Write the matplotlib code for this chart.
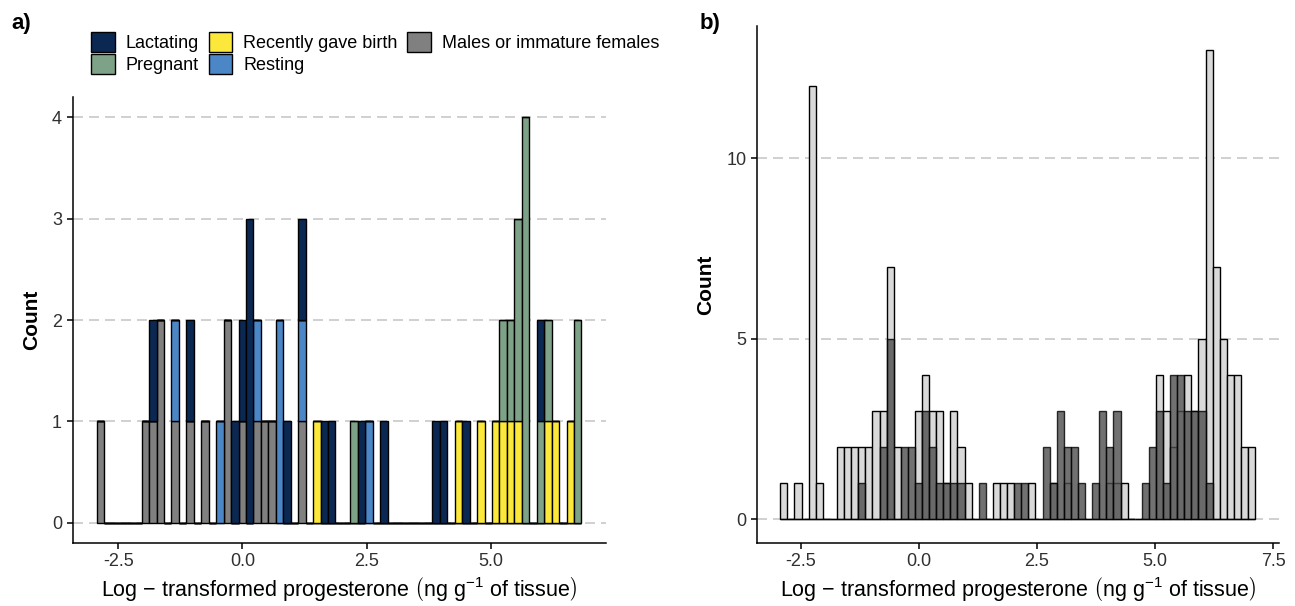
import numpy as np
import matplotlib.pyplot as plt
from matplotlib.patches import Patch

plt.rcParams['font.family'] = ['Liberation Sans', 'DejaVu Sans']
plt.rcParams['mathtext.fontset'] = 'custom'
plt.rcParams['mathtext.rm'] = 'Liberation Sans'
plt.rcParams['mathtext.it'] = 'Liberation Sans:italic'

# ---- panel a: stacked counts per 0.15 bin (65 bins from -2.93) ----
a_start = -2.93
binwidth = 0.15
males = [1, 0, 0, 0, 0, 0, 1, 1, 2, 0,
         1, 0, 1, 0, 1, 0, 0, 2, 0, 1,
         0, 1, 1, 1, 0, 0, 0, 1, 0, 0] + [0] * 35
resting = [0] * 10 + \
          [1, 0, 0, 0, 0, 0, 1, 0, 0, 0,
           0, 1, 0, 0, 2, 0, 0, 1, 0, 0,
           0, 0, 0, 0, 0, 0, 1, 0, 0, 0] + [0] * 25
recent = [0] * 20 + \
         [0, 0, 0, 0, 0, 0, 0, 0, 0, 1] + [0] * 10 + \
         [0, 0, 0, 0, 0, 0, 0, 0, 1, 0,
          0, 1, 0, 1, 1, 1, 1, 0, 0, 0,
          1, 1, 0, 1, 0]
pregnant = [0] * 30 + \
           [0, 0, 0, 0, 1, 0, 0, 0, 0, 0] + [0] * 10 + \
           [0, 0, 0, 0, 1, 1, 2, 4, 0, 1,
            1, 0, 0, 0, 2]
lactating = [0, 0, 0, 0, 0, 0, 0, 1, 0, 0,
             0, 0, 1, 0, 0, 0, 0, 0, 1, 1,
             3, 0, 0, 0, 0, 1, 0, 1, 0, 0,
             1, 1, 0, 0, 0, 1, 0, 0, 1, 0,
             0, 0, 0, 0, 0, 1, 1, 0, 0, 1,
             0, 0, 0, 0, 0, 0, 0, 0, 0, 1,
             0, 0, 0, 0, 0]

# ---- panel b: overlaid counts (67 bins from -2.93) ----
b_start = -2.93
light = [1, 0, 1, 0, 12, 1, 0, 0, 2, 2,
         2, 2, 2, 3, 3, 7, 2, 0, 0, 3,
         4, 3, 3, 1, 3, 2, 1, 0, 0, 0,
         1, 1, 1, 0, 0, 1, 0, 0, 1, 0,
         1, 0, 0, 0, 0, 0, 1, 1, 1, 0,
         0, 0, 0, 4, 3, 2, 3, 4, 3, 5,
         13, 7, 5, 4, 4, 2, 2]
dark = [0, 0, 0, 0, 0, 0, 0, 0, 0, 0,
        0, 1, 0, 0, 2, 5, 0, 2, 2, 1,
        3, 2, 1, 1, 1, 1, 0, 0, 1, 0,
        0, 0, 0, 1, 1, 0, 0, 2, 1, 3,
        2, 2, 1, 0, 1, 3, 2, 3, 0, 0,
        0, 1, 2, 3, 1, 4, 4, 3, 3, 3,
        1, 0, 0, 0, 0, 0, 0]

groups = ['Lactating', 'Pregnant', 'Recently gave birth', 'Resting',
          'Males or immature females']
colors = {'Lactating': '#0b2852', 'Pregnant': '#7da287',
          'Recently gave birth': '#fce83a', 'Resting': '#4b87c6',
          'Males or immature females': '#808080'}

fig = plt.figure(figsize=(12.95, 6.06), dpi=100)
axa = fig.add_axes([0.056, 0.104, 0.4118, 0.7357])
axb = fig.add_axes([0.5843, 0.104, 0.4032, 0.8527])

edge_kw = dict(edgecolor='black', linewidth=1.0, align='edge', zorder=3)

# stacked: bottom layer first (ggplot puts first level on top)
stack = [('Males or immature females', males), ('Resting', resting),
         ('Recently gave birth', recent), ('Pregnant', pregnant),
         ('Lactating', lactating)]
left_a = a_start + binwidth * np.arange(len(males))
bottom = np.zeros(len(males))
for name, vals in stack:
    vals = np.array(vals)
    axa.bar(left_a, vals, width=binwidth, bottom=bottom,
            color=colors[name], **edge_kw)
    bottom += vals

left_b = b_start + binwidth * np.arange(len(light))
axb.bar(left_b, light, width=binwidth, color='#d9d9d9', **edge_kw)
axb.bar(left_b, dark, width=binwidth, color='#4d4d4d', alpha=0.8,
        edgecolor='black', linewidth=1.0, align='edge', zorder=3)

xlabel = r'Log $-$ transformed progesterone $\left(\mathrm{ng\ g^{-1}\ of\ tissue}\right)$'
for ax in (axa, axb):
    ax.spines['top'].set_visible(False)
    ax.spines['right'].set_visible(False)
    for s in ('left', 'bottom'):
        ax.spines[s].set_linewidth(1.1)
    ax.tick_params(axis='both', length=4, width=1.1, labelsize=13,
                   labelcolor='#303030', direction='out')
    ax.yaxis.grid(True, color='#c8c8c8', linestyle=(0, (6, 3.6)),
                  linewidth=1.2, zorder=0)
    ax.set_axisbelow(True)
    ax.set_xlabel(xlabel, fontsize=15.5, labelpad=3)
    ax.set_xticks([-2.5, 0, 2.5, 5.0] if ax is axa else [-2.5, 0, 2.5, 5.0, 7.5])
    ax.set_xticklabels(['-2.5', '0.0', '2.5', '5.0'] if ax is axa
                       else ['-2.5', '0.0', '2.5', '5.0', '7.5'])

axa.set_xlim(-3.42, 7.31)
axa.set_ylim(-0.2, 4.2)
axa.set_yticks([0, 1, 2, 3, 4])
axa.set_ylabel('Count', fontsize=15, fontweight='bold', labelpad=8)

axb.set_xlim(-3.43, 7.62)
axb.set_ylim(-0.65, 13.65)
axb.set_yticks([0, 5, 10])
axb.set_ylabel('Count', fontsize=15, fontweight='bold', labelpad=8)

handles = [Patch(facecolor=colors[g], edgecolor='black', linewidth=1.0)
           for g in groups]
fig.legend(handles, groups, loc='upper left', ncol=3,
           bbox_to_anchor=(0.0635, 0.962), frameon=False, fontsize=13,
           handlelength=1.3, handleheight=1.3, handletextpad=0.6,
           labelspacing=0.12, columnspacing=0.55, borderpad=0)

fig.text(0.009, 0.952, 'a)', fontsize=16, fontweight='bold')
fig.text(0.54, 0.952, 'b)', fontsize=16, fontweight='bold')

plt.savefig('out.png', dpi=100)
